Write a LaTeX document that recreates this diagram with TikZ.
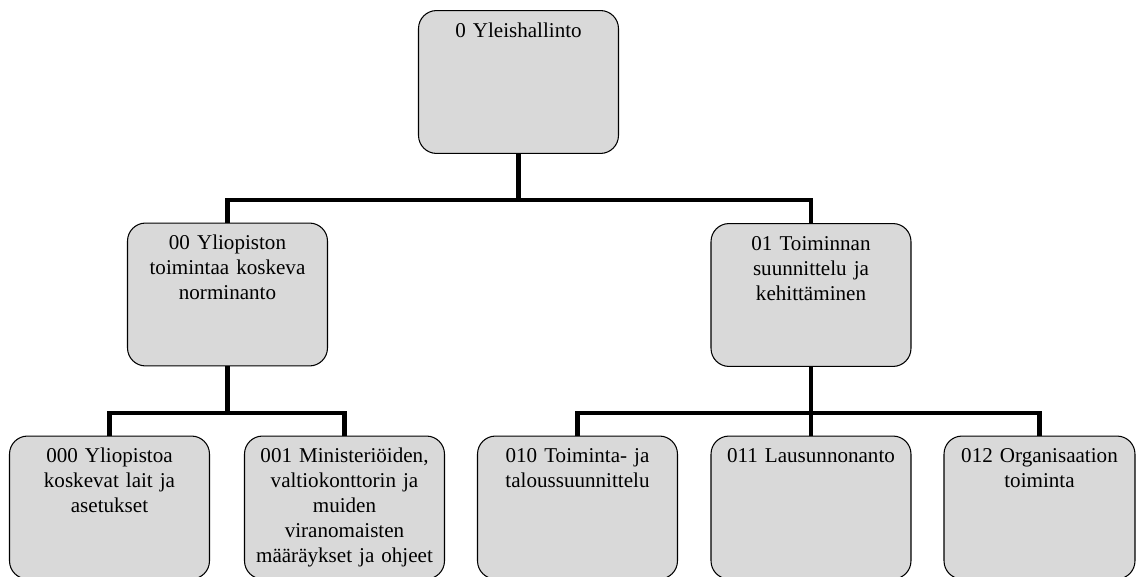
\documentclass[tikz,border=0pt]{standalone}
\usepackage{fontspec}
\setmainfont{Liberation Serif}
\definecolor{boxgray}{HTML}{D9D9D9}
\tikzset{
    unit/.style={draw, rectangle, rounded corners=0.36cm, fill=boxgray, line width=0.6pt,
        text width=3.7cm, align=center, inner xsep=0.15cm, inner ysep=4pt,
        text height=11.3pt, text depth=2.18cm, font=\fontsize{12pt}{14.2pt}\selectfont},
    link/.style={line width=2.8pt}
}

\begin{document}
\begin{tikzpicture}[x=0.02cm, y=-0.02cm]
    \useasboundingbox (0,0) rectangle (1137,577);

    % Top level
    \node[unit] (yh) at (518.5,82) {0 Yleishallinto};

    % Second level
    \node[unit] (n00) at (227.5,294.5) {00 Yliopiston\\ toimintaa koskeva\\ norminanto};
    \node[unit] (n01) at (811,295) {01 Toiminnan\\ suunnittelu ja\\ kehittäminen};

    % Third level
    \node[unit] (n000) at (109.5,507.5) {000 Yliopistoa\\ koskevat lait ja\\ asetukset};
    \node[unit] (n001) at (344.5,507.5) {001 Ministeriöiden,\\ valtiokonttorin ja\\ muiden\\ viranomaisten\\ määräykset ja ohjeet};
    \node[unit] (n010) at (577.5,507.5) {010 Toiminta- ja\\ taloussuunnittelu};
    \node[unit] (n011) at (811,507.5) {011 Lausunnonanto};
    \node[unit, text width=3.52cm] (n012) at (1039.5,507.5) {012 Organisaation\\ toiminta};

    % Bus lines
    \coordinate (b0) at (518.5,200);
    \coordinate (b00) at (227.5,413);
    \coordinate (b01) at (811,413);

    \draw[link] (yh.south) -- (b0);
    \draw[link] (n00.north) |- (b0) -| (n01.north);

    \draw[link] (n00.south) -- (b00);
    \draw[link] (n000.north) |- (b00) -| (n001.north);

    \draw[link] (n01.south) -- (n011.north);
    \draw[link] (n010.north) |- (b01) -| (n012.north);
\end{tikzpicture}
\end{document}
